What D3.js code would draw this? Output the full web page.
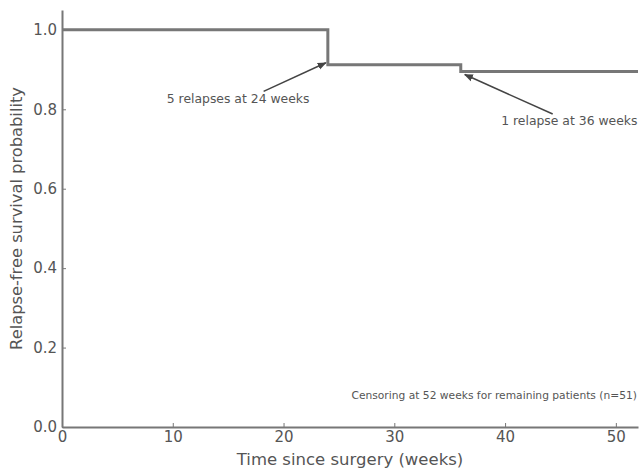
<!DOCTYPE html>
<html>
<head>
<meta charset="utf-8">
<script src="https://cdn.jsdelivr.net/npm/d3@7"></script>
<style>
  body { margin: 0; background: #fff; }
  text { font-family: "DejaVu Sans", sans-serif; }
</style>
</head>
<body>
<svg id="chart" width="641" height="469"></svg>
<script>
// Kaplan-Meier step data
var weeks = [0, 24, 36, 52];
var survival = [1.0, 0.912, 0.895, 0.895];
var xTicks = [0, 10, 20, 30, 40, 50];
var yTicks = [0.0, 0.2, 0.4, 0.6, 0.8, 1.0];

// annotations: label, event point, text position, arrow tail
var annotations = [
  { label: '5 relapses at 24 weeks', week: 24, value: 0.912, tx: 15.9, ty: 0.815, ax: 18.2, ay: 0.845 },
  { label: '1 relapse at 36 weeks', week: 36, value: 0.895, tx: 45.8, ty: 0.760, ax: 44.3, ay: 0.788 }
];
var censorNote = 'Censoring at 52 weeks for remaining patients (n=51)';

var svg = d3.select('#chart');
var margin = { left: 62, right: 3, top: 10, bottom: 42 };
var width = 641 - margin.left - margin.right;
var height = 469 - margin.top - margin.bottom;

var x = d3.scaleLinear().domain([0, 52]).range([margin.left, margin.left + width]);
var y = d3.scaleLinear().domain([0, 1.05]).range([margin.top + height, margin.top]);

var grey = '#777';
var textGrey = '#555';

svg.append('defs').append('marker')
  .attr('id', 'arrow')
  .attr('viewBox', '0 0 10 10')
  .attr('refX', 9).attr('refY', 5)
  .attr('markerWidth', 6).attr('markerHeight', 6)
  .attr('orient', 'auto')
  .append('path')
  .attr('d', 'M0,1 L10,5 L0,9 z')
  .attr('fill', '#444');

// x axis
var xAxis = svg.append('g')
  .attr('transform', 'translate(0,' + y(0) + ')')
  .call(d3.axisBottom(x).tickValues(xTicks).tickFormat(d3.format('d')).tickSizeInner(-4).tickSizeOuter(0).tickPadding(4));

// y axis
var yAxis = svg.append('g')
  .attr('transform', 'translate(' + x(0) + ',0)')
  .call(d3.axisLeft(y).tickValues(yTicks).tickFormat(d3.format('.1f')).tickSizeInner(-4).tickSizeOuter(0).tickPadding(5));

[xAxis, yAxis].forEach(function (g) {
  g.select('.domain').attr('stroke', grey).attr('stroke-width', 2);
  g.selectAll('.tick line').attr('stroke', grey).attr('stroke-width', 1);
  g.selectAll('.tick text').attr('fill', textGrey).style('font-size', '15px').style('font-family', '"DejaVu Sans", sans-serif');
});

// survival step line
var pts = weeks.map(function (w, i) { return [w, survival[i]]; });
svg.append('path')
  .datum(pts)
  .attr('fill', 'none')
  .attr('stroke', grey)
  .attr('stroke-width', 3)
  .attr('d', d3.line()
    .x(function (d) { return x(d[0]); })
    .y(function (d) { return y(d[1]); })
    .curve(d3.curveStepAfter));

// annotations
annotations.forEach(function (a) {
  svg.append('line')
    .attr('x1', x(a.ax)).attr('y1', y(a.ay))
    .attr('x2', x(a.week) + (a.week === 36 ? 4 : -2)).attr('y2', y(a.value) - 2 + (a.week === 36 ? 5 : 0))
    .attr('stroke', '#444')
    .attr('stroke-width', 1.5)
    .attr('marker-end', 'url(#arrow)');
  svg.append('text')
    .attr('x', x(a.tx)).attr('y', y(a.ty))
    .attr('text-anchor', 'middle')
    .attr('fill', textGrey)
    .style('font-size', '12.4px')
    .text(a.label);
});

svg.append('text')
  .attr('x', x(52) - 1).attr('y', y(0.07))
  .attr('text-anchor', 'end')
  .attr('fill', textGrey)
  .style('font-size', '10.7px')
  .text(censorNote);

// axis titles
svg.append('text')
  .attr('x', x(26)).attr('y', 465)
  .attr('text-anchor', 'middle')
  .attr('fill', textGrey)
  .style('font-size', '16.5px')
  .text('Time since surgery (weeks)');

svg.append('text')
  .attr('transform', 'translate(22,' + y(0.525) + ') rotate(-90)')
  .attr('text-anchor', 'middle')
  .attr('fill', textGrey)
  .style('font-size', '16.3px')
  .text('Relapse-free survival probability');
</script>
</body>
</html>
